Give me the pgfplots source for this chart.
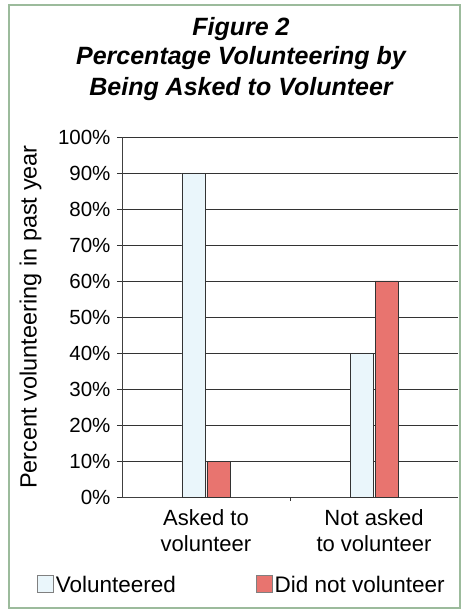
\documentclass[border=0pt]{standalone}
\usepackage{pgfplots}
\pgfplotsset{compat=1.18}
\usepackage{fontspec}
\setmainfont{Liberation Sans}
\definecolor{vol}{HTML}{EAF6FB}
\definecolor{notvol}{HTML}{E8746F}
\definecolor{frame}{HTML}{9CBB9C}
\begin{document}
\begin{tikzpicture}[x=1pt,y=1pt]
\useasboundingbox (0,0) rectangle (462,611);
\draw[frame, line width=2pt] (9,3) rectangle (460,606);
\node[anchor=base, font=\fontsize{25}{30}\selectfont\bfseries\itshape] at (241,575) {Figure 2};
\node[anchor=base, font=\fontsize{25}{30}\selectfont\bfseries\itshape] at (241,546) {Percentage Volunteering by};
\node[anchor=base, font=\fontsize{25}{30}\selectfont\bfseries\itshape] at (241,515) {Being Asked to Volunteer};
\begin{axis}[
  at={(122pt,114pt)}, anchor=south west,
  scale only axis, width=336pt, height=360pt,
  xmin=-0.5, xmax=1.5, ymin=0, ymax=100,
  axis x line=bottom, axis y line=left,
  axis line style={-, draw=black!75, line width=0.8pt},
  ybar, bar width=23pt, bar shift auto,
  ytick={0,10,...,100},
  yticklabel={\pgfmathprintnumber{\tick}\%},
  /pgf/number format/assume math mode=true,
  yticklabel style={font=\fontsize{20.5}{22}\selectfont, xshift=-3pt},
  ymajorgrids, grid style={draw=black!80, line width=0.8pt},
  y tick style={draw=black!80, line width=0.8pt},
  major tick length=5pt, tick align=outside,
  xtick={0,1},
  xticklabels={Asked to\\volunteer, Not asked\\to volunteer},
  xticklabel style={font=\fontsize{22}{26}\selectfont, align=center, yshift=-4pt},
  x tick style={draw=none},
  extra x ticks={0.5}, extra x tick labels={},
  extra x tick style={x tick style={draw=black!80, line width=0.8pt}, major tick length=4pt},
  ylabel={Percent volunteering in past year},
  ylabel style={font=\fontsize{23.5}{26}\selectfont, at={(axis description cs:-0.272,0.5)}, anchor=center},
  legend style={at={(rel axis cs:0.357,-0.245)}, anchor=center, draw=none, fill=none,
    legend columns=2, font=\fontsize{22.5}{26}\selectfont,
    /tikz/every even column/.append style={column sep=78pt}},
  legend image code/.code={\draw[#1, draw=black!50] (0pt,-7pt) rectangle (16pt,10pt);},
]
\addplot[fill=vol, draw=black!80, line width=0.6pt] coordinates {(0,90) (1,40)};
\addplot[fill=notvol, draw=black!80, line width=0.6pt] coordinates {(0,10) (1,60)};
\legend{Volunteered, Did not volunteer}
\end{axis}
\end{tikzpicture}
\end{document}
